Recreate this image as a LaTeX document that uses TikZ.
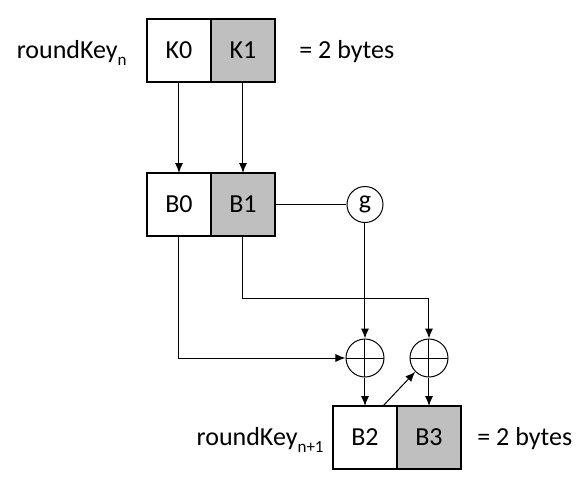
\documentclass[tikz,border=0pt]{standalone}
\usepackage{fontspec}
\setmainfont{Carlito}
\usetikzlibrary{arrows.meta, positioning}

\definecolor{keygray}{RGB}{191,191,191}
\newcommand{\keysub}[1]{\raisebox{-3.5pt}{\fontsize{8.5}{10}\selectfont #1}}

\begin{document}
\begin{tikzpicture}[x=0.5pt, y=-0.5pt, font=\fontsize{13}{15}\selectfont,
  byte/.style={draw, line width=1pt, fill=white, minimum width=32pt, minimum height=31.5pt, inner sep=0pt, outer sep=0pt},
  hibyte/.style={byte, fill=keygray},
  fn/.style={draw, circle, line width=0.5pt, minimum size=18pt, inner sep=0pt},
  xor/.style={draw, circle, line width=0.5pt, minimum size=19pt, inner sep=0pt,
    path picture={\draw[line width=0.5pt] (path picture bounding box.north) -- (path picture bounding box.south)
      (path picture bounding box.west) -- (path picture bounding box.east);}},
  arr/.style={line width=0.5pt, -{Latex[length=5pt, width=4pt]}},
  line/.style={line width=0.5pt},
  lbl/.style={inner sep=0pt}]
\useasboundingbox (0,0) rectangle (586,478);

\node[byte] (K0) at (179,50) {K0};
\node[hibyte, anchor=west] (K1) at (K0.east) {K1};

\node[byte] (B0) at (179,204.5) {B0};
\node[hibyte, anchor=west] (B1) at (B0.east) {B1};

\node[fn] (g) at (365,204.5) {g};

\node[xor] (x1) at (365,358) {};
\node[xor] (x2) at (429,358) {};

\node[byte] (B2) at (365,437.5) {B2};
\node[hibyte, anchor=west] (B3) at (B2.east) {B3};

\node[lbl, anchor=base east] (rk) at ([xshift=-10pt]K0.base west) {roundKey\keysub{n}};
\node[lbl, anchor=base west] (sz) at ([xshift=12pt]K1.base east) {= 2 bytes};
\node[lbl, anchor=base east] (rk1) at ([xshift=-4.5pt]B2.base west) {roundKey\keysub{n+1}};
\node[lbl, anchor=base west] (sz1) at ([xshift=8pt]B3.base east) {= 2 bytes};

\coordinate (turn) at (429,298);

\draw[arr] (K0.south) -- (B0.north);
\draw[arr] (K1.south) -- (B1.north);
\draw[line] (B1.east) -- (g.west);
\draw[arr] (g.south) -- (x1.north);
\draw[arr] (B0.south) |- (x1.west);
\draw[arr] (B1.south) |- (turn) -- (x2.north);
\draw[arr] (x1.south) -- (B2.north);
\draw[arr] ([xshift=9pt]B2.north) -- (x2.south west);
\draw[arr] (x2.south) -- (B3.north);
\end{tikzpicture}
\end{document}
